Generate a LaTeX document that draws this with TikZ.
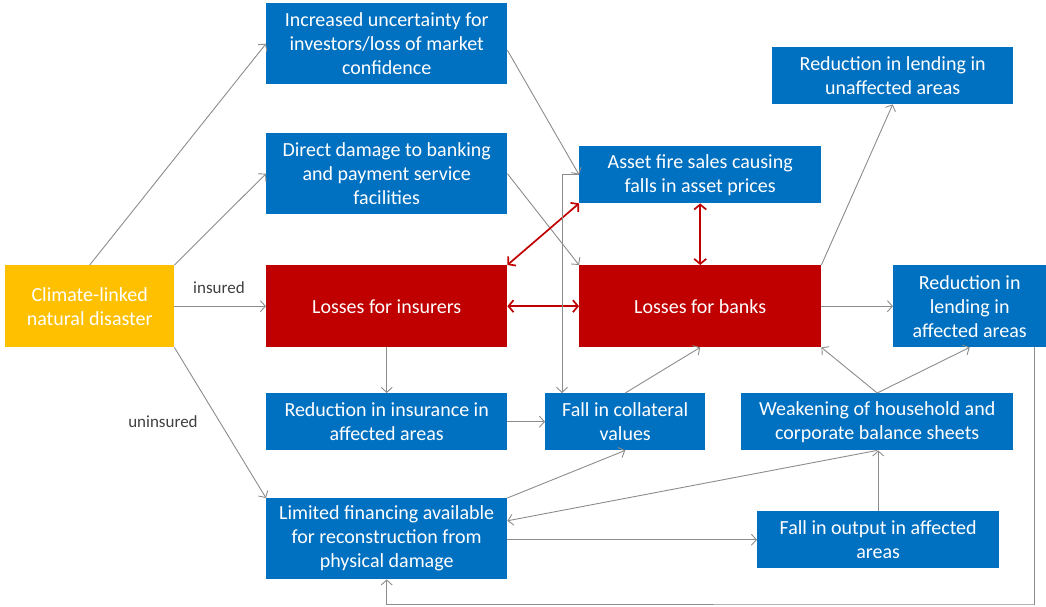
\documentclass[tikz,border=0pt]{standalone}
\usepackage{fontspec}
\setmainfont{Carlito}
\usetikzlibrary{arrows.meta,calc}
\definecolor{bblue}{HTML}{0070C0}
\definecolor{bred}{HTML}{C00000}
\definecolor{byel}{HTML}{FFC000}
\definecolor{lgray}{HTML}{8C8C8C}
\definecolor{tgray}{HTML}{404040}
\begin{document}
\begin{tikzpicture}[x=1pt,y=-1pt,
  box/.style={fill=bblue, text=white, font=\fontsize{20}{24}\selectfont, align=center, inner sep=0pt, anchor=north west},
  redbox/.style={box, fill=bred},
  conn/.style={draw=lgray, line width=0.9pt, -{Straight Barb[length=5pt,width=11pt]}},
  rarr/.style={draw=bred, line width=1.7pt, {Straight Barb[length=5pt,width=12pt]}-{Straight Barb[length=5pt,width=12pt]}},
  lbl/.style={text=tgray, font=\fontsize{17}{19}\selectfont, inner sep=0pt}]
\useasboundingbox (0,0) rectangle (1046,607);
% boxes
\node[box, fill=byel, minimum width=169pt, minimum height=82pt] (cl) at (5,265) {Climate-linked\\natural disaster};
\node[box, minimum width=241pt, minimum height=81pt] (inc) at (266,3) {Increased uncertainty for\\investors/loss of market\\confidence};
\node[box, minimum width=241pt, minimum height=81pt] (dir) at (266,133) {Direct damage to banking\\and payment service\\facilities};
\node[redbox, minimum width=241pt, minimum height=82pt] (ins) at (266,265) {Losses for insurers};
\node[box, minimum width=241pt, minimum height=57pt] (rii) at (266,393) {Reduction in insurance in\\affected areas};
\node[box, minimum width=241pt, minimum height=81pt] (lim) at (266,498) {Limited financing available\\for reconstruction from\\physical damage};
\node[box, minimum width=242pt, minimum height=57pt] (afs) at (579,146) {Asset fire sales causing\\falls in asset prices};
\node[redbox, minimum width=242pt, minimum height=82pt] (lb) at (579,265) {Losses for banks};
\node[box, minimum width=160pt, minimum height=57pt] (fic) at (545,393) {Fall in collateral\\values};
\node[box, minimum width=272pt, minimum height=57pt] (wk) at (741,393) {Weakening of household and\\corporate balance sheets};
\node[box, minimum width=242pt, minimum height=57pt] (fo) at (757,511) {Fall in output in affected\\areas};
\node[box, minimum width=241pt, minimum height=57pt] (rlu) at (772,47) {Reduction in lending in\\unaffected areas};
\node[box, minimum width=153pt, minimum height=82pt] (rla) at (893,265) {Reduction in\\lending in\\affected areas};
% labels
\node[lbl] (lins) at (219,288) {insured};
\node[lbl] (luni) at (163,422) {uninsured};
% connectors
\draw[conn] (cl.north) -- (inc.west);
\draw[conn] (cl.north east) -- (dir.west);
\draw[conn] (cl.east) -- (ins.west);
\draw[conn] (cl.south east) -- (lim.north west);
\draw[conn] ($(inc.north east)!0.58!(inc.south east)$) -- (afs.west);
\draw[conn] (dir.east) -- (lb.north west);
\draw[rarr] (ins.north east) -- (afs.south west);
\draw[rarr] (ins.east) -- (lb.west);
\draw[rarr] (afs.south) -- (lb.north);
\coordinate (fcol) at ($(fic.north west)+(17,0)$);
\draw[conn] (afs.west) -| (fcol);
\draw[conn] (ins.south) -- (rii.north);
\draw[conn] (rii.east) -- (fic.west);
\draw[conn] (fic.north) -- (lb.south);
\draw[conn] (lim.north east) -- (fic.south);
\draw[conn] (wk.south) -- ($(lim.north east)!0.28!(lim.south east)$);
\draw[conn] (fo.west -| lim.east) -- (fo.west);
\draw[conn] (fo.north) -- (fo.north |- wk.south);
\draw[conn] (wk.north) -- (lb.south east);
\draw[conn] (wk.north) -- (rla.south);
\draw[conn] (lb.east) -- (rla.west);
\draw[conn] (lb.north east) -- (rlu.south);
\coordinate (fbs) at ($(rla.south east)+(-12,0)$);
\coordinate (fb) at (1034,604);
\draw[conn] (fbs) |- (fb) -| (lim.south);
\end{tikzpicture}
\end{document}
